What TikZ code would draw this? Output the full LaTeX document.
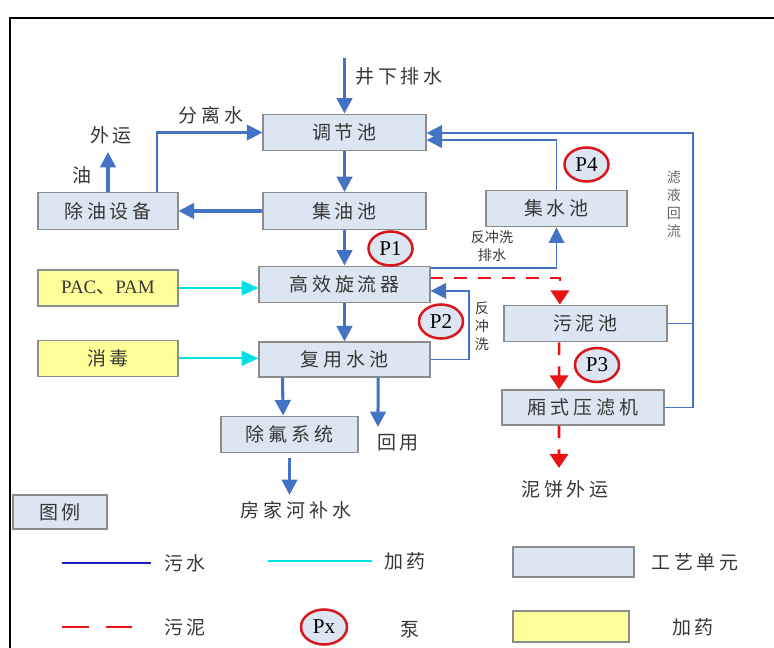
\documentclass[tikz,border=0pt]{standalone}
\usepackage{fontspec}
\setmainfont{Noto Sans CJK SC}
\newfontfamily\latinfont{Liberation Serif}
\usepackage{tikz}
\usetikzlibrary{shapes.geometric, arrows.meta}
\definecolor{waterblue}{RGB}{68, 114, 196}
\definecolor{dosecyan}{RGB}{0, 225, 230}
\definecolor{sludgered}{RGB}{232, 20, 20}
\definecolor{unitfill}{RGB}{220, 230, 242}
\definecolor{unitedge}{RGB}{140, 140, 140}
\definecolor{doseyellow}{RGB}{255, 255, 153}
\definecolor{pumpred}{RGB}{215, 25, 30}
\definecolor{legendblue}{RGB}{30, 30, 200}
\definecolor{txtgray}{RGB}{55, 55, 55}
\newcommand\boxfont{\fontsize{13.5}{16}\selectfont\addfontfeature{LetterSpace=20}}
\newcommand\notefont{\fontsize{10}{12.8}\selectfont}

\begin{document}
\begin{tikzpicture}[x=0.025cm, y=-0.025cm,
    every node/.style={text=txtgray, font=\boxfont},
    procbox/.style={draw=unitedge, fill=unitfill, line width=0.8pt, minimum height=0.92cm, inner sep=0pt},
    dosebox/.style={draw=unitedge, fill=doseyellow, line width=0.8pt, minimum width=3.5cm, minimum height=0.9cm, inner sep=0pt},
    pump/.style={ellipse, draw=pumpred, fill=unitfill, line width=1.8pt, minimum width=1.1cm, minimum height=0.85cm, inner sep=0pt, text=black, font=\latinfont\fontsize{15}{16}\selectfont},
    water/.style={draw=waterblue, line width=2.2pt, -{Triangle[length=11pt, width=11pt]}},
    thinwater/.style={draw=waterblue, line width=1.4pt},
    dosing/.style={draw=dosecyan, line width=1.5pt, -{Triangle[length=12pt, width=10.5pt]}},
    sludge/.style={draw=sludgered, line width=1.8pt, dash pattern=on 9pt off 8pt, -{Triangle[length=10pt, width=13pt]}}]
    \useasboundingbox (0,0) rectangle (774,648);
    % frame
    \draw[black, line width=1.5pt] (10,660) -- (10,18) -- (790,18);

    % process units
    \node[procbox, minimum width=4.075cm] (tiaojie) at (344.5,132.5) {调节池};
    \node[procbox, minimum width=4.075cm] (jiyou) at (344.5,211) {集油池};
    \node[procbox, minimum width=3.5cm] (chuyou) at (108,211) {除油设备};
    \node[procbox, minimum width=3.525cm] (jishui) at (556.5,208.5) {集水池};
    \node[procbox, minimum width=4.275cm] (xuanliu) at (344.5,284.5) {高效旋流器};
    \node[procbox, minimum width=4.275cm, minimum height=0.875cm] (fuyong) at (344.5,359.5) {复用水池};
    \node[procbox, minimum width=3.425cm] (chufu) at (289.5,434.5) {除氟系统};
    \node[procbox, minimum width=4.075cm] (wuni) at (585.5,323.5) {污泥池};
    \node[procbox, minimum width=4.05cm, minimum height=0.875cm] (yalv) at (583,407.5) {厢式压滤机};

    % dosing
    \node[dosebox] (pac) at (108,288) {{\latinfont PAC}、{\latinfont PAM}};
    \node[dosebox] (xiaodu) at (108,358.3) {消毒};

    % pumps
    \node[pump] (p1) at (390.5,248.5) {P1};
    \node[pump] (p2) at (441,321.5) {P2};
    \node[pump] (p3) at (597,365) {P3};
    \node[pump] (p4) at (586.5,164.5) {P4};

    % free ends
    \coordinate (inlet) at (344.5,58);
    \coordinate (oilout) at (108,152);
    \coordinate (reuse) at (378,427);
    \coordinate (supply) at (289.5,495);
    \coordinate (cake) at (559,468);
    \coordinate (ret) at (693,133);

    % labels
    \node (inlet-text) at (399,76) {井下排水};
    \node (sep-text) at (211,115) {分离水};
    \node (oilout-text) at (111,135) {外运};
    \node (oil-text) at (82,175) {油};
    \node[font=\notefont, align=center] (drain-text) at (492,246) {反冲洗\\排水};
    \node[font=\notefont, align=center] (wash-text) at (482,326) {反\\冲\\洗};
    \node[font=\notefont, align=center, text=black!60] (ret-text) at (674,204) {滤\\液\\回\\流};
    \node (reuse-text) at (398,443) {回用};
    \node (supply-text) at (296,510) {房家河补水};
    \node (cake-text) at (565,489) {泥饼外运};

    % water lines
    \draw[water] (inlet) -- (tiaojie.north);
    \draw[water] (tiaojie.south) -- (jiyou.north);
    \draw[water] (jiyou.west) -- (chuyou.east);
    \draw[water] (chuyou.north) -- (oilout);
    \draw[water, line width=1.6pt] ([xshift=1.225cm]chuyou.north) |- (tiaojie.west);
    \draw[water] (jiyou.south) -- (xuanliu.north);
    \draw[water] (xuanliu.south) -- (fuyong.north);
    \draw[water] ([xshift=-1.55cm]fuyong.south) -- ([xshift=-0.16cm]chufu.north);
    \draw[water] ([xshift=0.84cm]fuyong.south) -- (reuse);
    \draw[water] ([yshift=-0.12cm]chufu.south) -- (supply);
    \draw[water, line width=1.4pt] ([yshift=0.41cm]xuanliu.east) -| (jishui.south);
    \draw[water, line width=1.4pt] (fuyong.east) -- ++(0.95cm,0) |- ([yshift=-0.16cm]xuanliu.east);
    \draw[water, line width=1.4pt] (jishui.north) |- ([yshift=-0.19cm]tiaojie.east);
    \draw[thinwater] (wuni.east) -- (wuni.east -| ret);
    \draw[water, line width=1.4pt] (yalv.east) -| (ret) -- (ret -| tiaojie.east);

    % dosing lines
    \draw[dosing] (pac.east) -- (pac.east -| xuanliu.west);
    \draw[dosing] (xiaodu.east) -- (xiaodu.east -| fuyong.west);

    % sludge lines
    \draw[sludge] ([yshift=0.16cm]xuanliu.east) -| ([xshift=-0.64cm]wuni.north);
    \draw[sludge] ([xshift=-0.66cm]wuni.south) -- ([xshift=-0.6cm]yalv.north);
    \draw[sludge] ([xshift=-0.6cm]yalv.south) -- (cake);

    % legend
    \node[procbox, minimum width=2.35cm, minimum height=0.85cm] (tuli) at (60,512) {图例};
    \draw[legendblue, line width=1.8pt] (62,563) -- (151,563);
    \node (lg-water) at (185,563) {污水};
    \draw[dosecyan, line width=1.4pt] (268,561) -- (372,561);
    \node (lg-dose) at (405,561) {加药};
    \node[procbox, minimum width=3.025cm, minimum height=0.75cm] (lg-unitbox) at (573.5,562) {};
    \node (lg-unit) at (695,562) {工艺单元};
    \draw[sludgered, line width=1.8pt, dash pattern=on 19pt off 12pt] (62,627) -- (134,627);
    \node (lg-sludge) at (185,627) {污泥};
    \node[pump, minimum width=1.15cm, minimum height=0.875cm] (lg-pump) at (324,627) {Px};
    \node (lg-pumptext) at (410,630) {泵};
    \node[dosebox, minimum width=2.9cm, minimum height=0.775cm] (lg-dosebox) at (571,626.5) {};
    \node (lg-dosetext) at (693,627) {加药};
\end{tikzpicture}
\end{document}
